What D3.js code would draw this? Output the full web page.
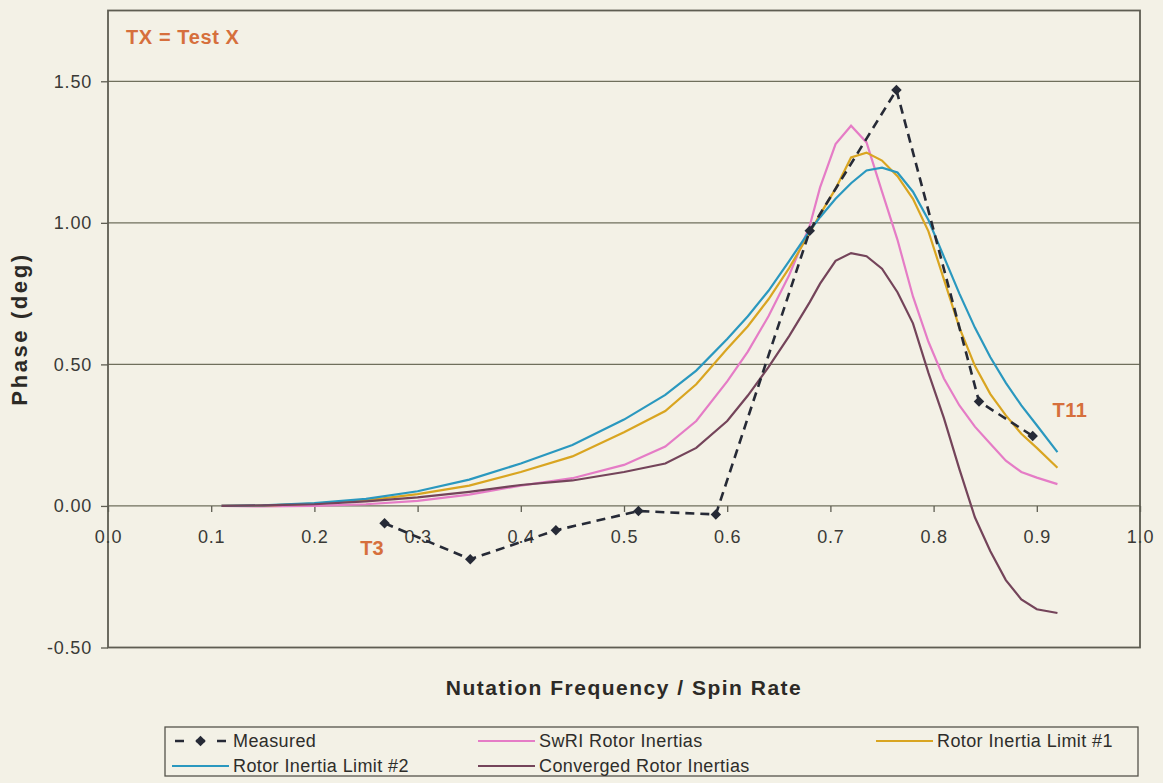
<!DOCTYPE html>
<html>
<head>
<meta charset="utf-8">
<script src="https://cdn.jsdelivr.net/npm/d3@7"></script>
<style>
  body { margin: 0; background: #f3f1e6; }
  svg { display: block; font-family: "Liberation Sans", Arial, sans-serif; }
</style>
</head>
<body>
<div id="chart"></div>
<script>
// frequency grid shared by the four model curves
const freq = [0.11, 0.15, 0.20, 0.25, 0.30, 0.35, 0.40, 0.45, 0.50, 0.54, 0.57, 0.60, 0.62, 0.64, 0.66, 0.68,
    0.69, 0.705, 0.72, 0.735, 0.75, 0.765, 0.78, 0.795, 0.81, 0.825, 0.84, 0.855, 0.87, 0.885, 0.90, 0.92];
const swri = [0.000, -0.002, 0.000, 0.006, 0.018, 0.040, 0.072, 0.098, 0.145, 0.210, 0.300, 0.440, 0.545, 0.670, 0.815, 0.990,
    1.125, 1.278, 1.343, 1.284, 1.110, 0.940, 0.740, 0.580, 0.450, 0.355, 0.280, 0.220, 0.160, 0.120, 0.100, 0.077];
const limit1 = [0.000, 0.001, 0.008, 0.020, 0.042, 0.072, 0.120, 0.175, 0.260, 0.335, 0.430, 0.555, 0.635, 0.730, 0.840, 0.965,
    1.030, 1.120, 1.231, 1.248, 1.220, 1.165, 1.085, 0.970, 0.800, 0.630, 0.495, 0.395, 0.320, 0.255, 0.205, 0.135];
const limit2 = [0.000, 0.002, 0.010, 0.025, 0.052, 0.093, 0.150, 0.215, 0.305, 0.392, 0.478, 0.590, 0.670, 0.760, 0.865, 0.972,
    1.020, 1.085, 1.140, 1.185, 1.195, 1.178, 1.110, 1.010, 0.880, 0.750, 0.630, 0.525, 0.435, 0.355, 0.285, 0.190];
const converged = [0.000, 0.002, 0.006, 0.016, 0.030, 0.050, 0.074, 0.090, 0.120, 0.150, 0.205, 0.300, 0.390, 0.490, 0.600, 0.720,
    0.785, 0.866, 0.893, 0.882, 0.838, 0.755, 0.645, 0.470, 0.310, 0.130, -0.040, -0.160, -0.262, -0.330, -0.365, -0.378];

// measured test points
const measuredX = [0.268, 0.351, 0.434, 0.514, 0.589, 0.680, 0.764, 0.844, 0.896];
const measuredY = [-0.061, -0.188, -0.086, -0.018, -0.030, 0.972, 1.469, 0.369, 0.247];

const xTicks = [0, 0.1, 0.2, 0.3, 0.4, 0.5, 0.6, 0.7, 0.8, 0.9, 1.0];
const yTicks = [-0.5, 0, 0.5, 1.0, 1.5];

const series = [
    {name: "SwRI Rotor Inertias", values: swri, color: "#e57cc6"},
    {name: "Rotor Inertia Limit #1", values: limit1, color: "#d9a521"},
    {name: "Rotor Inertia Limit #2", values: limit2, color: "#2a98bf"},
    {name: "Converged Rotor Inertias", values: converged, color: "#74445a"}
];

const W = 1163, H = 783;
const margin = {top: 10.5, right: 23, bottom: 135.5, left: 108};
const width = W - margin.left - margin.right;
const height = H - margin.top - margin.bottom;

const svg = d3.select("#chart").append("svg")
    .attr("width", W)
    .attr("height", H);

svg.append("rect").attr("width", W).attr("height", H).attr("fill", "#f3f1e6");

const x = d3.scaleLinear().domain([0, 1.0]).range([margin.left, margin.left + width]);
const y = d3.scaleLinear().domain([-0.5, 1.75]).range([margin.top + height, margin.top]);

// plain hyphen for negatives, like the original
const fmt2 = d => d3.format(".2f")(d).replace("\u2212", "-");
const fmt1 = d => d3.format(".1f")(d);

// grid lines
svg.append("g")
    .selectAll("line")
    .data(yTicks.slice(1))
    .join("line")
    .attr("x1", x(0)).attr("x2", x(1))
    .attr("y1", d => y(d)).attr("y2", d => y(d))
    .attr("stroke", "#6f6f5c")
    .attr("stroke-width", 1.3);

// plot border
svg.append("rect")
    .attr("x", x(0)).attr("y", y(1.75))
    .attr("width", x(1) - x(0)).attr("height", y(-0.5) - y(1.75))
    .attr("fill", "none")
    .attr("stroke", "#5e5d52")
    .attr("stroke-width", 1.8);

// axes
const yAxis = g => g
    .attr("transform", `translate(${x(0)},0)`)
    .call(d3.axisLeft(y).tickValues(yTicks).tickFormat(fmt2).tickSize(7).tickPadding(9).tickSizeOuter(0))
    .call(g => g.select(".domain").remove())
    .call(g => g.selectAll("line").attr("stroke", "#5e5d52").attr("stroke-width", 1.3))
    .call(g => g.selectAll("text").attr("fill", "#3a3a36").attr("font-size", "18px").attr("letter-spacing", "0.8px"));

const xAxis = g => g
    .attr("transform", `translate(0,${y(0)})`)
    .call(d3.axisBottom(x).tickValues(xTicks).tickFormat(fmt1).tickSize(6).tickPadding(18).tickSizeOuter(0))
    .call(g => g.select(".domain").remove())
    .call(g => g.selectAll("line").attr("stroke", "#5e5d52").attr("stroke-width", 1.3))
    .call(g => g.selectAll("text").attr("fill", "#3a3a36").attr("font-size", "18px").attr("letter-spacing", "0.8px"));

svg.append("g").call(xAxis);
svg.append("g").call(yAxis);

// model curves
const line = d3.line()
    .x((d, i) => x(freq[i]))
    .y(d => y(d));

svg.append("g")
    .selectAll("path")
    .data(series)
    .join("path")
    .attr("d", d => line(d.values))
    .attr("fill", "none")
    .attr("stroke", d => d.color)
    .attr("stroke-width", 2.2);

// measured
const measured = measuredX.map((v, i) => [v, measuredY[i]]);
svg.append("path")
    .attr("d", d3.line().x(d => x(d[0])).y(d => y(d[1]))(measured))
    .attr("fill", "none")
    .attr("stroke", "#262a36")
    .attr("stroke-width", 2.6)
    .attr("stroke-dasharray", "9,6");

const diamond = d3.symbol().type(d3.symbolSquare).size(55);
svg.append("g")
    .selectAll("path")
    .data(measured)
    .join("path")
    .attr("d", diamond)
    .attr("transform", d => `translate(${x(d[0])},${y(d[1])}) rotate(45)`)
    .attr("fill", "#262a36");

// annotations
const orange = "#d66f3c";
svg.append("text").attr("x", 126).attr("y", 44).text("TX = Test X")
    .attr("fill", orange).attr("font-weight", "bold").attr("font-size", "20px").attr("letter-spacing", "0.6px");
svg.append("text").attr("x", 372).attr("y", 555).attr("text-anchor", "middle").text("T3")
    .attr("fill", orange).attr("font-weight", "bold").attr("font-size", "20px");
svg.append("text").attr("x", 1070).attr("y", 417).attr("text-anchor", "middle").text("T11")
    .attr("fill", orange).attr("font-weight", "bold").attr("font-size", "20px").attr("letter-spacing", "0.5px");

// axis titles
svg.append("text")
    .attr("x", x(0.5)).attr("y", 695)
    .attr("text-anchor", "middle")
    .attr("font-weight", "bold").attr("font-size", "21px").attr("letter-spacing", "1.5px")
    .attr("fill", "#2c2a26")
    .text("Nutation Frequency / Spin Rate");

svg.append("text")
    .attr("transform", `translate(27,${(y(1.75) + y(-0.5)) / 2}) rotate(-90)`)
    .attr("text-anchor", "middle")
    .attr("font-weight", "bold").attr("font-size", "22px").attr("letter-spacing", "2.6px")
    .attr("fill", "#2c2a26")
    .text("Phase (deg)");

// legend
const legend = svg.append("g");
legend.append("rect")
    .attr("x", 165).attr("y", 727).attr("width", 973).attr("height", 49)
    .attr("fill", "none").attr("stroke", "#55544c").attr("stroke-width", 1.3);

const legendItems = [
    {name: "Measured", color: "#262a36", dash: true, lx: 172, ly: 741},
    {name: series[0].name, color: series[0].color, lx: 478, ly: 741},
    {name: series[1].name, color: series[1].color, lx: 876, ly: 741},
    {name: series[2].name, color: series[2].color, lx: 172, ly: 766},
    {name: series[3].name, color: series[3].color, lx: 478, ly: 766}
];

const item = legend.selectAll("g.item")
    .data(legendItems)
    .join("g")
    .attr("class", "item")
    .attr("transform", d => `translate(${d.lx},${d.ly})`);

item.append("line")
    .attr("x1", d => d.dash ? 3 : 0).attr("x2", d => d.dash ? 54 : 57)
    .attr("stroke", d => d.color)
    .attr("stroke-width", d => d.dash ? 2.6 : 2.2)
    .attr("stroke-dasharray", d => d.dash ? "9,12" : null);

item.filter(d => d.dash).append("path")
    .attr("d", diamond)
    .attr("transform", "translate(28.5,0) rotate(45)")
    .attr("fill", "#262a36");

item.append("text")
    .attr("x", 61).attr("dy", "0.35em")
    .attr("font-size", "18px")
    .attr("letter-spacing", "0.4px")
    .attr("fill", "#2e2d2a")
    .text(d => d.name);
</script>
</body>
</html>
